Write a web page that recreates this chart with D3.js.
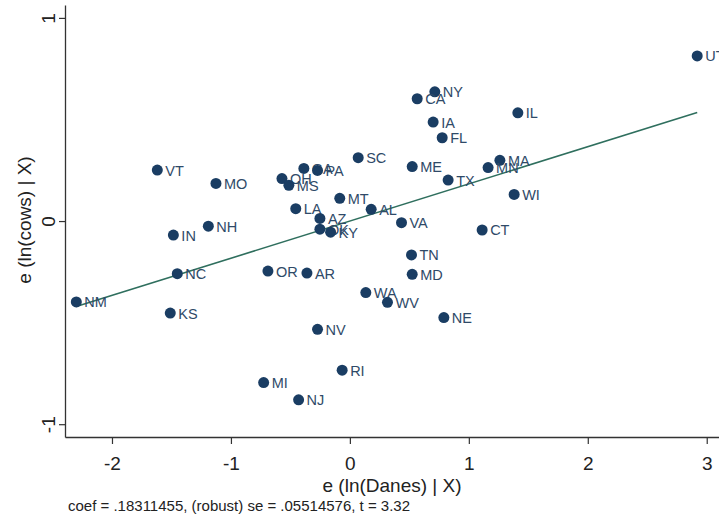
<!DOCTYPE html>
<html>
<head>
<meta charset="utf-8">
<script src="https://cdn.jsdelivr.net/npm/d3@7"></script>
<style>
  html, body { margin: 0; padding: 0; background: #fff; }
  svg { display: block; font-family: "Liberation Sans", Arial, sans-serif; }
</style>
</head>
<body>
<svg id="chart" width="719" height="515"></svg>
<script>
// Added-variable plot: residuals of ln(cows) vs residuals of ln(Danes)
const states = ["UT","NY","CA","IA","FL","IL","SC","ME","TX","MA","MN","WI",
  "GA","PA","OH","MS","MT","LA","AL","AZ","OK","KY","VA","CT","VT","MO",
  "NH","IN","NC","NM","KS","OR","AR","TN","MD","WA","WV","NE","NV","RI","MI","NJ"];
const danes = [2.92, 0.714, 0.566, 0.700, 0.776, 1.412, 0.070, 0.524, 0.826, 1.261, 1.162, 1.381,
  -0.387, -0.272, -0.571, -0.513, -0.085, -0.455, 0.179, -0.252, -0.252, -0.162, 0.434, 1.112, -1.619, -1.126,
  -1.19, -1.484, -1.451, -2.30, -1.510, -0.689, -0.361, 0.518, 0.524, 0.134, 0.316, 0.790, -0.272, -0.065, -0.725, -0.431];
const cows = [0.813, 0.636, 0.602, 0.487, 0.410, 0.533, 0.312, 0.268, 0.202, 0.299, 0.263, 0.131,
  0.259, 0.249, 0.209, 0.176, 0.112, 0.061, 0.058, 0.013, -0.040, -0.055, -0.008, -0.044, 0.251, 0.185,
  -0.025, -0.069, -0.259, -0.398, -0.453, -0.246, -0.256, -0.167, -0.262, -0.352, -0.400, -0.475, -0.533, -0.734, -0.795, -0.880];
const xTicks = [-2, -1, 0, 1, 2, 3];
const yTicks = [-1, 0, 1];
const coef = 0.18311455, robustSE = 0.05514576, tStat = 3.32;

const svg = d3.select("#chart");
const x = d3.scaleLinear().domain([-2.395, 3.12]).range([65, 721]);
const y = d3.scaleLinear().domain([-1.063, 1.0635]).range([437, 5]);

const axisColor = "#333";
const markColor = "#1a3d63";
const labelColor = "#2f4a68";
const fontFamily = "Liberation Sans, Arial, sans-serif";
const tickFmt = d => String(d);   // plain hyphen for negatives

// y axis
const gy = svg.append("g").attr("transform", "translate(65,0)")
  .call(d3.axisLeft(y).tickValues(yTicks).tickSize(6).tickSizeOuter(0).tickFormat(tickFmt));
gy.select(".domain").attr("stroke", axisColor).attr("stroke-width", 1.3);
gy.selectAll(".tick line").attr("stroke", axisColor).attr("stroke-width", 1.2);
gy.selectAll(".tick text")
  .attr("font-size", 19).attr("fill", "#222")
  .attr("font-family", fontFamily)
  .attr("x", null).attr("dy", null)
  .attr("text-anchor", "middle")
  .attr("transform", "translate(-10,0) rotate(-90)");

// x axis
const gx = svg.append("g").attr("transform", "translate(0,437)")
  .call(d3.axisBottom(x).tickValues(xTicks).tickSize(7).tickSizeOuter(0).tickFormat(tickFmt));
gx.select(".domain").attr("stroke", axisColor).attr("stroke-width", 1.3);
gx.selectAll(".tick line").attr("stroke", axisColor).attr("stroke-width", 1.2);
gx.selectAll(".tick text")
  .attr("font-size", 19).attr("fill", "#222")
  .attr("font-family", fontFamily)
  .attr("y", 33).attr("dy", null);

// axis titles
svg.append("text")
  .attr("x", 392).attr("y", 492)
  .attr("text-anchor", "middle").attr("font-size", 19).attr("fill", "#222")
  .text("e (ln(Danes) | X)");
svg.append("text")
  .attr("transform", "translate(31,220) rotate(-90)")
  .attr("text-anchor", "middle").attr("font-size", 19).attr("fill", "#222")
  .text("e (ln(cows) | X)");

// fitted line across the range of the data
const xExt = d3.extent(danes);
svg.append("line")
  .attr("x1", x(xExt[0])).attr("y1", y(coef * xExt[0]))
  .attr("x2", x(xExt[1])).attr("y2", y(coef * xExt[1]))
  .attr("stroke", "#2f6f5e").attr("stroke-width", 1.6);

// points and state labels
const pts = svg.append("g");
states.forEach((s, i) => {
  pts.append("circle")
    .attr("cx", x(danes[i])).attr("cy", y(cows[i])).attr("r", 5.5)
    .attr("fill", markColor);
  pts.append("text")
    .attr("x", x(danes[i]) + 8).attr("y", y(cows[i]) + 5.5)
    .attr("font-size", 14.5).attr("fill", labelColor)
    .text(s);
});

// regression note
const fmt = v => d3.format(".8f")(v).replace(/^0/, "");
svg.append("text")
  .attr("x", 68).attr("y", 511)
  .attr("font-size", 15).attr("fill", "#222")
  .text(`coef = ${fmt(coef)}, (robust) se = ${fmt(robustSE)}, t = ${tStat}`);
</script>
</body>
</html>
